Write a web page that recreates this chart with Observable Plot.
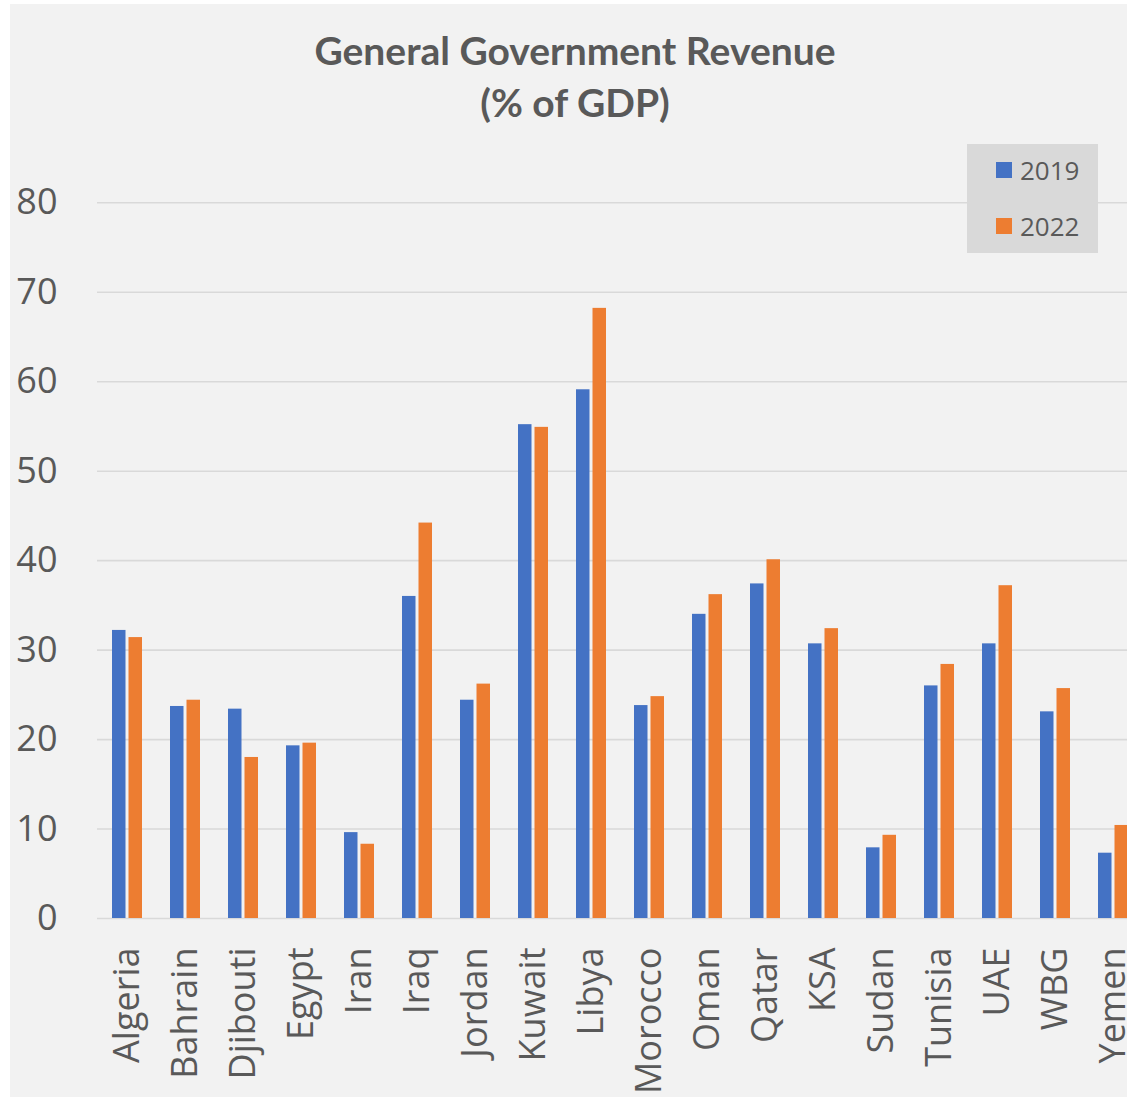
<!DOCTYPE html>
<html>
<head>
<meta charset="utf-8">
<script src="https://cdn.jsdelivr.net/npm/d3@7"></script>
<script src="https://cdn.jsdelivr.net/npm/@observablehq/plot@0.6"></script>
<style>
  html, body { margin: 0; padding: 0; background: #ffffff; overflow: hidden; width: 1127px; height: 1098px; }
  #frame { position: absolute; left: 10px; top: 4px; width: 1117px; height: 1093px; background: #f2f2f2; overflow: hidden; }
  #title { position: absolute; left: 0; top: 20px; width: 1130px; text-align: center; font-family: Lato, "Open Sans", sans-serif; font-weight: 700; font-size: 39px; line-height: 52px; color: #595959; }
  #chart { position: absolute; left: 0; top: 136px; }
  #legend { position: absolute; left: 957px; top: 140px; width: 131px; height: 109px; background: #d9d9d9; font-family: "Open Sans", sans-serif; font-size: 26px; color: #595959; }
  .item { position: absolute; left: 29px; height: 30px; display: flex; align-items: center; }
  .sw { width: 16px; height: 16px; margin-right: 8px; }
</style>
</head>
<body>
<div id="frame">
  <div id="title">General Government Revenue<br>(% of GDP)</div>
  <div id="chart"></div>
  <div id="legend"></div>
</div>
<script>
const countries = ["Algeria","Bahrain","Djibouti","Egypt","Iran","Iraq","Jordan","Kuwait","Libya","Morocco","Oman","Qatar","KSA","Sudan","Tunisia","UAE","WBG","Yemen"];
const rev2019 = [32.2, 23.7, 23.4, 19.3, 9.6, 36.0, 24.4, 55.2, 59.1, 23.8, 34.0, 37.4, 30.7, 7.9, 26.0, 30.7, 23.1, 7.3];
const rev2022 = [31.4, 24.4, 18.0, 19.6, 8.3, 44.2, 26.2, 54.9, 68.2, 24.8, 36.2, 40.1, 32.4, 9.3, 28.4, 37.2, 25.7, 10.4];
const years = ["2019", "2022"];
const colors = ["#4472c4", "#ed7d31"];
const yTicks = [0, 10, 20, 30, 40, 50, 60, 70, 80];

const rows2019 = countries.map((c, i) => ({country: c, year: years[0], value: rev2019[i]}));
const rows2022 = countries.map((c, i) => ({country: c, year: years[1], value: rev2022[i]}));

const chart = Plot.plot({
  width: 1132,
  height: 957,
  marginLeft: 87,
  marginRight: 0,
  marginTop: 62.3,
  marginBottom: 179,
  style: {background: "transparent", fontFamily: "'Open Sans', sans-serif", fontSize: "36px", color: "#595959", maxWidth: "none", overflow: "hidden"},
  x: {type: "band", domain: countries, padding: 0},
  y: {domain: [0, 80]},
  color: {domain: years, range: colors},
  marks: [
    Plot.gridY({ticks: yTicks, stroke: "#d9d9d9", strokeOpacity: 1, strokeWidth: 1.6}),
    Plot.barY(rows2019, {x: "country", y: "value", fill: "year", insetLeft: 14, insetRight: 30.5}),
    Plot.barY(rows2022, {x: "country", y: "value", fill: "year", insetLeft: 30.5, insetRight: 14}),
    Plot.axisY({ticks: yTicks, tickSize: 0, tickPadding: 40, label: null, fill: "#595959"}),
    Plot.axisX({tickRotate: -90, tickSize: 0, tickPadding: 29, label: null, fill: "#595959"})
  ]
});
document.getElementById("chart").appendChild(chart);

const legend = document.getElementById("legend");
years.forEach((y, i) => {
  const item = document.createElement("div");
  item.className = "item";
  item.style.top = (i === 0 ? 11 : 67) + "px";
  const sw = document.createElement("div");
  sw.className = "sw";
  sw.style.background = colors[i];
  const t = document.createElement("span");
  t.textContent = y;
  item.appendChild(sw);
  item.appendChild(t);
  legend.appendChild(item);
});
</script>
</body>
</html>
